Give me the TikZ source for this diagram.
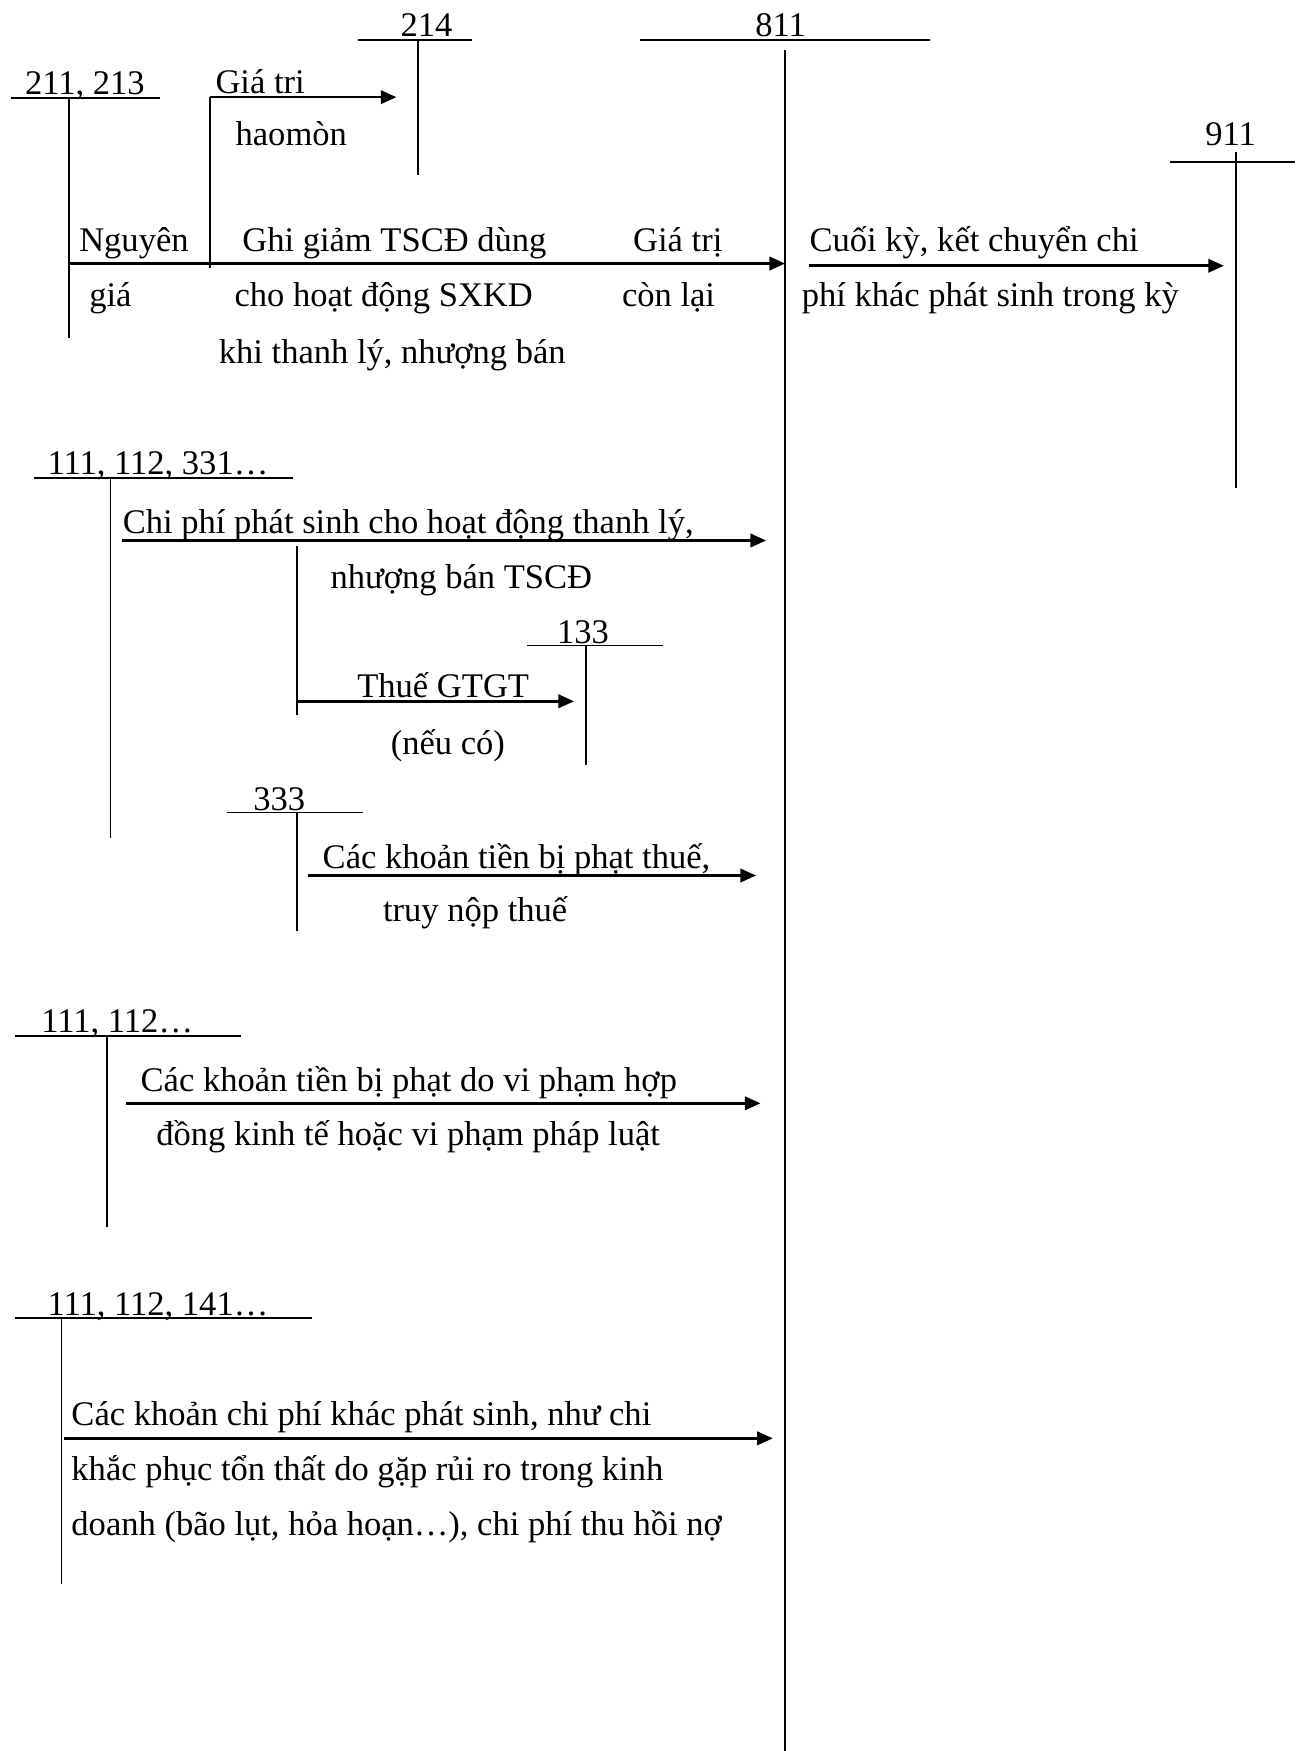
\documentclass[tikz,border=0pt]{standalone}
\usepackage{fontspec}
\setmainfont{Liberation Serif}
\usetikzlibrary{arrows.meta,positioning}

\begin{document}
\begin{tikzpicture}[
        x=1cm, y=1cm, font=\fontsize{17.6}{21}\selectfont,
        every node/.style={inner sep=0pt, outer sep=0pt},
        acct/.style ={anchor=base},
        txt/.style  ={anchor=base west},
        tline/.style={line width=0.9pt, color=black},
        flow/.style ={-{Triangle[length=0.28cm,width=0.24cm]},
                      line width=1.3pt, color=black},
    ]
        \useasboundingbox (0,0) rectangle (23.2,-31.36);

        % ===================== Cuentas T arriba =====================
        \node[acct] (n214) at (7.64,-0.66) {214};
        \draw[tline] (6.42,-0.72) -- (8.46,-0.72);
        \draw[tline] (7.48,-0.72) -- (7.48,-3.14);

        \node[acct] (n811) at (13.98,-0.66) {811};
        \draw[tline] (11.46,-0.72) -- (16.66,-0.72);
        \draw[tline] (14.06,-0.90) -- (14.06,-31.36);

        \node[acct] (n211) at (1.52,-1.70) {211, 213};
        \draw[tline] (0.20,-1.76) -- (2.86,-1.76);
        \draw[tline] (1.24,-1.76) -- (1.24,-6.06);

        \node[acct] (n911) at (22.04,-2.61) {911};
        \draw[tline] (20.96,-2.90) -- (23.2,-2.90);
        \draw[tline] (22.14,-2.72) -- (22.14,-8.74);

        % ===================== Hao mon =====================
        \coordinate (hm0) at (3.76,-4.80);
        \coordinate (hmc) at (3.76,-1.74);
        \coordinate (hm1) at (7.10,-1.74);
        \draw[tline] (hm0) -- (hmc);
        \draw[flow] (hmc) -- (hm1);
        \node[txt] (gt1) at (3.86,-1.67) {Giá tri};
        \node[txt] (gt2) at (4.22,-2.60) {haomòn};

        % ===================== Ghi giam TSCD =====================
        \coordinate (m0) at (1.24,-4.72);
        \coordinate (m1) at (14.06,-4.72);
        \draw[flow] (m0) -- (m1);
        \node[txt] (ng1) at (1.42,-4.51) {Nguyên};
        \node[txt] (ng2) at (1.60,-5.49) {giá};
        \node[txt] (gh1) at (4.34,-4.51) {Ghi giảm TSCĐ dùng};
        \node[txt] (gh2) at (4.20,-5.49) {cho hoạt động SXKD};
        \node[txt] (gh3) at (3.92,-6.51) {khi thanh lý, nhượng bán};
        \node[txt] (cl1) at (11.34,-4.51) {Giá trị};
        \node[txt] (cl2) at (11.14,-5.49) {còn lại};

        % Ket chuyen sang 911.
        \coordinate (k0) at (14.48,-4.76);
        \coordinate (k1) at (21.92,-4.76);
        \draw[flow] (k0) -- (k1);
        \node[txt] (ck1) at (14.50,-4.51) {Cuối kỳ, kết chuyển chi};
        \node[txt] (ck2) at (14.36,-5.49) {phí khác phát sinh trong kỳ};

        % ===================== 111, 112, 331... =====================
        \node[acct] (n331) at (2.83,-8.50) {111, 112, 331…};
        \draw[tline] (0.60,-8.56) -- (5.24,-8.56);
        \draw[tline] (1.98,-8.56) -- (1.98,-15.00);

        \coordinate (c0) at (2.18,-9.68);
        \coordinate (c1) at (13.72,-9.68);
        \draw[flow] (c0) -- (c1);
        \node[txt] (cp1) at (2.20,-9.56) {Chi phí phát sinh cho hoạt động thanh lý,};
        \node[txt] (cp2) at (5.92,-10.54) {nhượng bán TSCĐ};

        % Thue GTGT -> 133.
        \node[acct] (n133) at (10.44,-11.52) {133};
        \draw[tline] (9.44,-11.56) -- (11.88,-11.56);
        \draw[tline] (10.50,-11.56) -- (10.50,-13.70);

        \coordinate (v0) at (5.32,-9.78);
        \coordinate (v1) at (5.32,-12.80);
        \coordinate (vc) at (5.32,-12.56);
        \coordinate (v2) at (10.28,-12.56);
        \draw[tline] (v0) -- (v1);
        \draw[flow] (vc) -- (v2);
        \node[txt] (vt1) at (6.40,-12.50) {Thuế GTGT};
        \node[txt] (vt2) at (7.00,-13.52) {(nếu có)};

        % ===================== 333 =====================
        \node[acct] (n333) at (5.00,-14.51) {333};
        \draw[tline] (4.06,-14.55) -- (6.50,-14.55);
        \draw[tline] (5.32,-14.55) -- (5.32,-16.68);

        \coordinate (p0) at (5.52,-15.68);
        \coordinate (p1) at (13.54,-15.68);
        \draw[flow] (p0) -- (p1);
        \node[txt] (pt1) at (5.78,-15.55) {Các khoản tiền bị phạt thuế,};
        \node[txt] (pt2) at (6.86,-16.50) {truy nộp thuế};

        % ===================== 111, 112... =====================
        \node[acct] (n112) at (2.10,-18.50) {111, 112…};
        \draw[tline] (0.26,-18.56) -- (4.32,-18.56);
        \draw[tline] (1.92,-18.56) -- (1.92,-21.98);

        \coordinate (h0) at (2.26,-19.76);
        \coordinate (h1) at (13.62,-19.76);
        \draw[flow] (h0) -- (h1);
        \node[txt] (hd1) at (2.52,-19.55) {Các khoản tiền bị phạt do vi phạm hợp};
        \node[txt] (hd2) at (2.80,-20.52) {đồng kinh tế hoặc vi phạm pháp luật};

        % ===================== 111, 112, 141... =====================
        \node[acct] (n141) at (2.83,-23.56) {111, 112, 141…};
        \draw[tline] (0.26,-23.60) -- (5.58,-23.60);
        \draw[tline] (1.10,-23.60) -- (1.10,-28.36);

        \coordinate (o0) at (1.14,-25.76);
        \coordinate (o1) at (13.84,-25.76);
        \draw[flow] (o0) -- (o1);
        \node[txt] (ot1) at (1.28,-25.53) {Các khoản chi phí khác phát sinh, như chi};
        \node[txt] (ot2) at (1.28,-26.51) {khắc phục tổn thất do gặp rủi ro trong kinh};
        \node[txt] (ot3) at (1.28,-27.50) {doanh (bão lụt, hỏa hoạn…), chi phí thu hồi nợ};
    \end{tikzpicture}
\end{document}
